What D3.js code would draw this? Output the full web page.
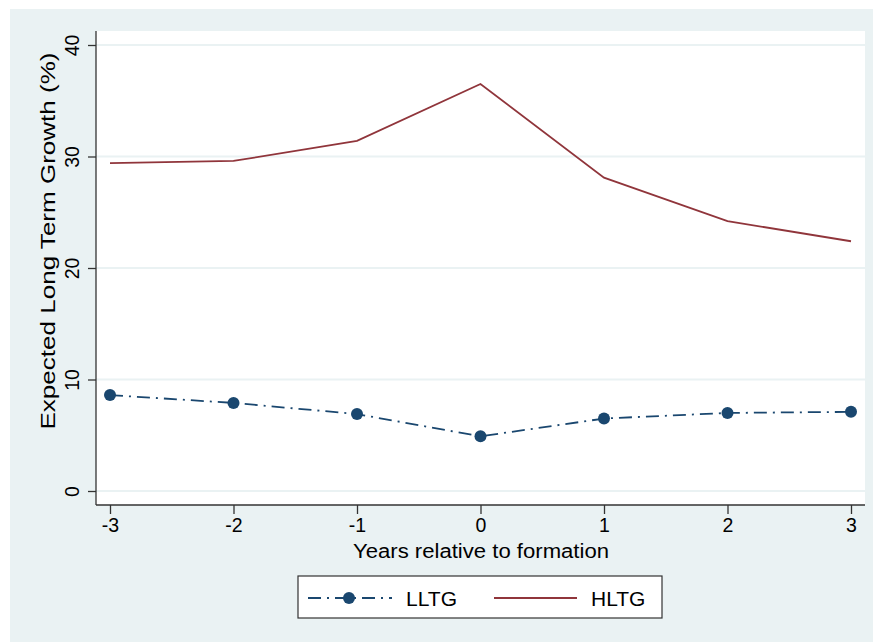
<!DOCTYPE html>
<html>
<head>
<meta charset="utf-8">
<script src="https://cdn.jsdelivr.net/npm/d3@7"></script>
<style>
  html, body { margin:0; padding:0; background:#fff; }
  svg { display:block; font-family:"Liberation Sans", Arial, sans-serif; }
</style>
</head>
<body>
<div id="chart"></div>
<script>
// Erwartetes Langfristwachstum um das Formationsjahr herum
const years    = [-3, -2, -1, 0, 1, 2, 3];
const lltg     = [8.6, 7.9, 6.9, 4.9, 6.5, 7.0, 7.1];
const hltg     = [29.4, 29.6, 31.4, 36.5, 28.1, 24.2, 22.4];
const yTicks   = [0, 10, 20, 30, 40];
const seriesNames = ['LLTG', 'HLTG'];

(() => {
  const W = 873, H = 642;
  const navy = '#1a476f', maroon = '#90353b', bg = '#eaf2f3';

  const svg = d3.select('#chart').append('svg')
    .attr('width', W).attr('height', H);

  // Außenfläche
  svg.append('rect')
    .attr('x', 10).attr('y', 9)
    .attr('width', W - 10).attr('height', H - 9)
    .attr('fill', bg);

  const plot = { left:96, right:865, top:31, bottom:505 };
  svg.append('rect')
    .attr('x', plot.left).attr('y', plot.top)
    .attr('width', plot.right - plot.left).attr('height', plot.bottom - plot.top)
    .attr('fill', '#fff');

  const x = d3.scaleLinear().domain([-3, 3]).range([110, 851]);
  const y = d3.scaleLinear().domain([0, 40]).range([491, 45]);

  // Gitterlinien
  svg.append('g').selectAll('line')
    .data(yTicks).enter().append('line')
      .attr('x1', plot.left).attr('x2', plot.right)
      .attr('y1', d => y(d)).attr('y2', d => y(d))
      .attr('stroke', bg).attr('stroke-width', 2);

  // Achsen
  const yAx = svg.append('g')
    .attr('transform', `translate(${plot.left},0)`)
    .call(d3.axisLeft(y).tickValues(yTicks).tickSize(8));
  yAx.select('.domain').attr('d', `M0,${plot.top}V${plot.bottom}`);
  yAx.selectAll('text')
    .attr('font-size', 19.5).attr('fill', '#000')
    .attr('transform', 'rotate(-90)')
    .attr('x', 0).attr('y', -17)
    .attr('dy', 0)
    .style('text-anchor', 'middle');

  const xAx = svg.append('g')
    .attr('transform', `translate(0,${plot.bottom})`)
    .call(d3.axisBottom(x).tickValues(years).tickSize(9).tickPadding(4)
      .tickFormat(d => String(d)));
  xAx.select('.domain').attr('d', `M${plot.left},0H${plot.right}`);
  xAx.selectAll('text').attr('font-size', 19.5).attr('fill', '#000');

  svg.selectAll('.domain, .tick line')
    .attr('stroke', '#333').attr('stroke-width', 1.3);

  // Achsentitel
  svg.append('text')
    .attr('transform', 'translate(55,241) rotate(-90)')
    .attr('text-anchor', 'middle')
    .attr('font-size', 21)
    .attr('textLength', 377).attr('lengthAdjust', 'spacingAndGlyphs')
    .text('Expected Long Term Growth (%)');

  svg.append('text')
    .attr('x', 481).attr('y', 558)
    .attr('text-anchor', 'middle')
    .attr('font-size', 20)
    .attr('textLength', 256).attr('lengthAdjust', 'spacingAndGlyphs')
    .text('Years relative to formation');

  // Linien
  const line = d3.line().x((d, i) => x(years[i])).y(d => y(d));

  svg.append('path').datum(hltg)
    .attr('d', line)
    .attr('fill', 'none').attr('stroke', maroon).attr('stroke-width', 1.8);

  svg.append('path').datum(lltg)
    .attr('d', line)
    .attr('fill', 'none').attr('stroke', navy).attr('stroke-width', 1.8)
    .attr('stroke-dasharray', '13,6,2,6');

  svg.append('g').selectAll('circle')
    .data(lltg).enter().append('circle')
      .attr('cx', (d, i) => x(years[i])).attr('cy', d => y(d))
      .attr('r', 6).attr('fill', navy);

  // Legende
  const lg = svg.append('g');
  lg.append('rect')
    .attr('x', 298).attr('y', 576).attr('width', 364).attr('height', 42)
    .attr('fill', '#fff').attr('stroke', '#333').attr('stroke-width', 1.2);

  lg.append('line')
    .attr('x1', 308).attr('x2', 392).attr('y1', 598).attr('y2', 598)
    .attr('stroke', navy).attr('stroke-width', 1.8)
    .attr('stroke-dasharray', '13,6,2,6');
  lg.append('circle').attr('cx', 349).attr('cy', 598).attr('r', 6).attr('fill', navy);
  lg.append('line')
    .attr('x1', 494).attr('x2', 577).attr('y1', 598).attr('y2', 598)
    .attr('stroke', maroon).attr('stroke-width', 1.8);

  lg.selectAll('text.lab')
    .data(seriesNames).enter().append('text')
      .attr('class', 'lab')
      .attr('x', (d, i) => i === 0 ? 406 : 591)
      .attr('y', 606)
      .attr('font-size', 21)
      .text(d => d);
})();
</script>
</body>
</html>
